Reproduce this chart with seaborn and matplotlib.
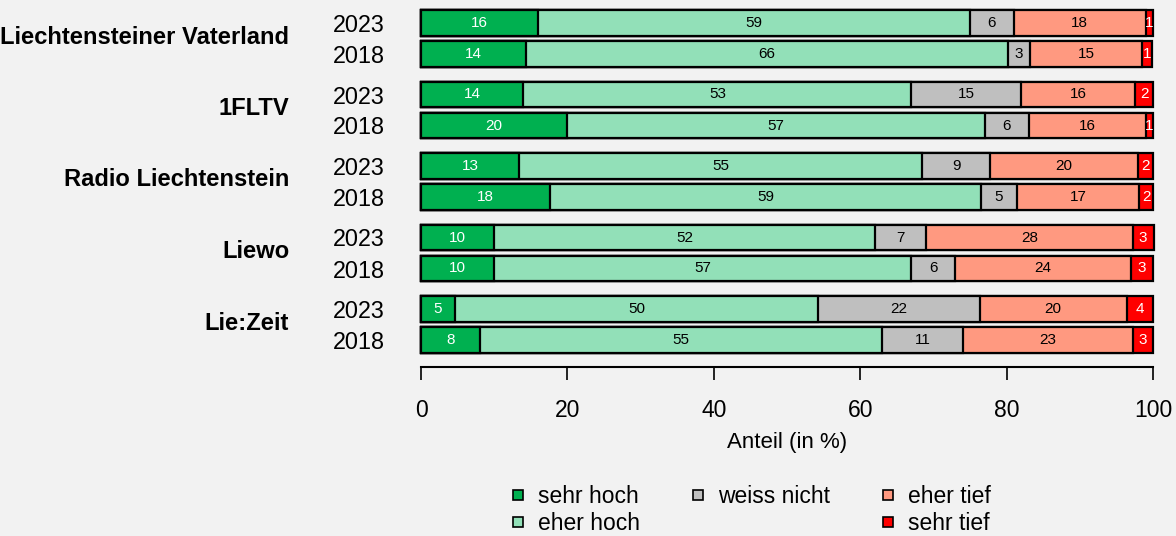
import numpy as np
import pandas as pd
import matplotlib
matplotlib.use("Agg")
import matplotlib.pyplot as plt
from matplotlib.lines import Line2D
import seaborn as sns

# Data (Anteil in %), order of rows: per medium 2023 then 2018
groups = ["Liechtensteiner Vaterland", "1FLTV", "Radio Liechtenstein", "Liewo", "Lie:Zeit"]
years = ["2023", "2018"]
categories = ["sehr hoch", "eher hoch", "weiss nicht", "eher tief", "sehr tief"]

sehr_hoch = [16, 14.4, 14, 20, 13.4, 17.6, 10, 10, 4.6, 8]
eher_hoch = [59, 65.8, 53, 57, 55.1, 58.9, 52, 57, 49.7, 55]
weiss_nicht = [6, 3.0, 15, 6, 9.3, 4.9, 7, 6, 22.0, 11]
eher_tief = [18, 15.3, 15.6, 16, 20.1, 16.7, 28.2, 24, 20.1, 23.3]
sehr_tief = [1, 1.4, 2.4, 1, 2.1, 1.9, 2.9, 3, 3.6, 2.7]

colors = ["#00b050", "#92e0b8", "#bfbfbf", "#ff9980", "#ff0000"]
text_colors = ["white", "black", "black", "black", "white"]
bg = "#f2f2f2"

values = np.array([sehr_hoch, eher_hoch, weiss_nicht, eher_tief, sehr_tief])
cum = values.cumsum(axis=0)

# bar centres, top to bottom (group gap larger than year gap)
pos = [23 + g * 71.5 + k * 31 for g in range(len(groups)) for k in range(len(years))]

rows = []
for c, cat in enumerate(categories):
    for i, p in enumerate(pos):
        rows.append({"cat": cat, "pos": p, "cum": cum[c, i]})
df = pd.DataFrame(rows)

sns.set_theme(style="white")
plt.rcParams["font.family"] = ["Liberation Sans", "DejaVu Sans"]
plt.rcParams["text.color"] = "black"
plt.rcParams["axes.labelcolor"] = "black"
plt.rcParams["xtick.color"] = "black"
plt.rcParams["ytick.color"] = "black"

fig = plt.figure(figsize=(11.76, 5.36), dpi=100, facecolor=bg)
ax = fig.add_axes([421 / 1176, 1 - 367 / 536, 732 / 1176, 367 / 536])
ax.set_facecolor(bg)

# stacked bars: draw cumulative totals from largest to smallest
sns.barplot(data=df, x="cum", y="pos", hue="cat", hue_order=categories[::-1],
            palette=dict(zip(categories, colors)), orient="y", native_scale=True,
            dodge=False, width=0.82, edgecolor="black", linewidth=1.6,
            errorbar=None, legend=False, saturation=1, ax=ax)
for patch in ax.patches:
    patch.set_clip_on(False)

# segment labels
for c in range(len(categories)):
    for i, p in enumerate(pos):
        v = values[c, i]
        ax.text(cum[c, i] - v / 2, p, f"{v:.0f}", ha="center", va="center",
                color=text_colors[c], fontsize=11)

ax.set_xlim(0, 100)
ax.set_ylim(367, 0)

for s in ["top", "left", "right"]:
    ax.spines[s].set_visible(False)
ax.spines["bottom"].set_bounds(0, 100)
ax.spines["bottom"].set_linewidth(1.5)
ax.spines["bottom"].set_color("black")

ax.set_xticks([0, 20, 40, 60, 80, 100])
ax.tick_params(axis="x", direction="out", length=9, width=1.2, pad=14,
               labelsize=16.5, bottom=True)
ax.set_yticks(pos)
ax.set_yticklabels(years * len(groups))
ax.tick_params(axis="y", length=0, pad=26, labelsize=16.8)
ax.set_xlabel("Anteil (in %)", fontsize=16, labelpad=7)
ax.set_ylabel("")

# medium names
for g, name in enumerate(groups):
    yc = (pos[2 * g] + pos[2 * g + 1]) / 2 - 1.5
    ax.text(-18, yc, name, ha="right", va="center", fontsize=17.1,
            fontweight="bold", clip_on=False)

# legend (column-wise, with an empty slot under "weiss nicht")
def handle(col):
    return Line2D([], [], marker="s", linestyle="", markersize=7.5,
                  markerfacecolor=col, markeredgecolor="black", markeredgewidth=1.2)

blank = Line2D([], [], linestyle="", marker=None)
handles = [handle(colors[0]), handle(colors[1]), handle(colors[2]), blank,
           handle(colors[3]), handle(colors[4])]
labels = ["sehr hoch", "eher hoch", "weiss nicht", "", "eher tief", "sehr tief"]
fig.legend(handles, labels, ncol=3, loc="center",
           bbox_to_anchor=(751 / 1176, 1 - 510 / 536), frameon=False,
           fontsize=16.5, handlelength=0.6, handletextpad=0.6,
           columnspacing=2.2, labelspacing=0.2)

fig.savefig("out.png", dpi=100, facecolor=bg)
